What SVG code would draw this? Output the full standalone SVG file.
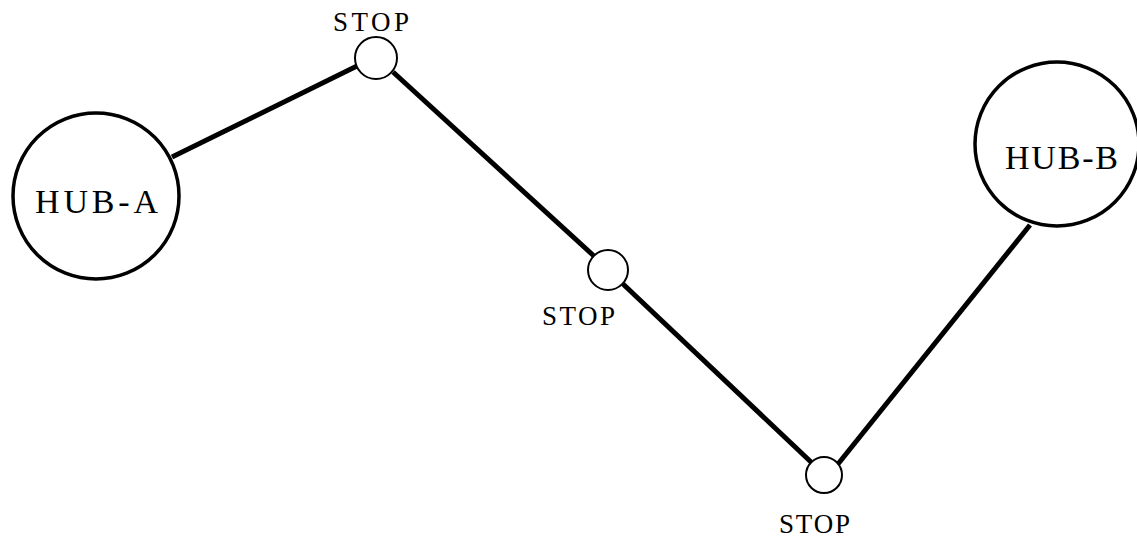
<svg xmlns="http://www.w3.org/2000/svg" width="1137" height="552" viewBox="0 0 1137 552">
<style>
.hub{fill:#fff;stroke:#000;stroke-width:3.5}
.stop{fill:#fff;stroke:#000;stroke-width:2}
.edge{stroke:#000;stroke-width:5;fill:none;stroke-linecap:butt}
.lbl{font-family:"Liberation Serif","DejaVu Serif",serif;fill:#000}
.hl{font-size:34px}
.sl{font-size:27px}
</style>
<rect width="1137" height="552" fill="#fff"/>
<g id="connectors">
<line class="edge" x1="172" y1="157" x2="357" y2="66"/>
<line class="edge" x1="393" y1="72" x2="594" y2="256"/>
<line class="edge" x1="623" y1="284" x2="811" y2="462"/>
<line class="edge" x1="838" y1="464" x2="1030" y2="225"/>
</g>
<g id="hub-a">
<circle class="hub" cx="96" cy="196" r="83"/>
<text class="lbl hl" x="35" y="213" textLength="123" lengthAdjust="spacing">HUB-A</text>
</g>
<g id="stop-1">
<circle class="stop" cx="376" cy="58" r="21"/>
<text class="lbl sl" x="333" y="31" textLength="76" lengthAdjust="spacing">STOP</text>
</g>
<g id="stop-2">
<circle class="stop" cx="608" cy="270" r="20"/>
<text class="lbl sl" x="542" y="325" textLength="73" lengthAdjust="spacing">STOP</text>
</g>
<g id="stop-3">
<circle class="stop" cx="824" cy="475" r="18"/>
<text class="lbl sl" x="779" y="533" textLength="71" lengthAdjust="spacing">STOP</text>
</g>
<g id="hub-b">
<circle class="hub" cx="1057" cy="144" r="82"/>
<text class="lbl hl" x="1005" y="169" textLength="113" lengthAdjust="spacing">HUB-B</text>
</g>
</svg>
